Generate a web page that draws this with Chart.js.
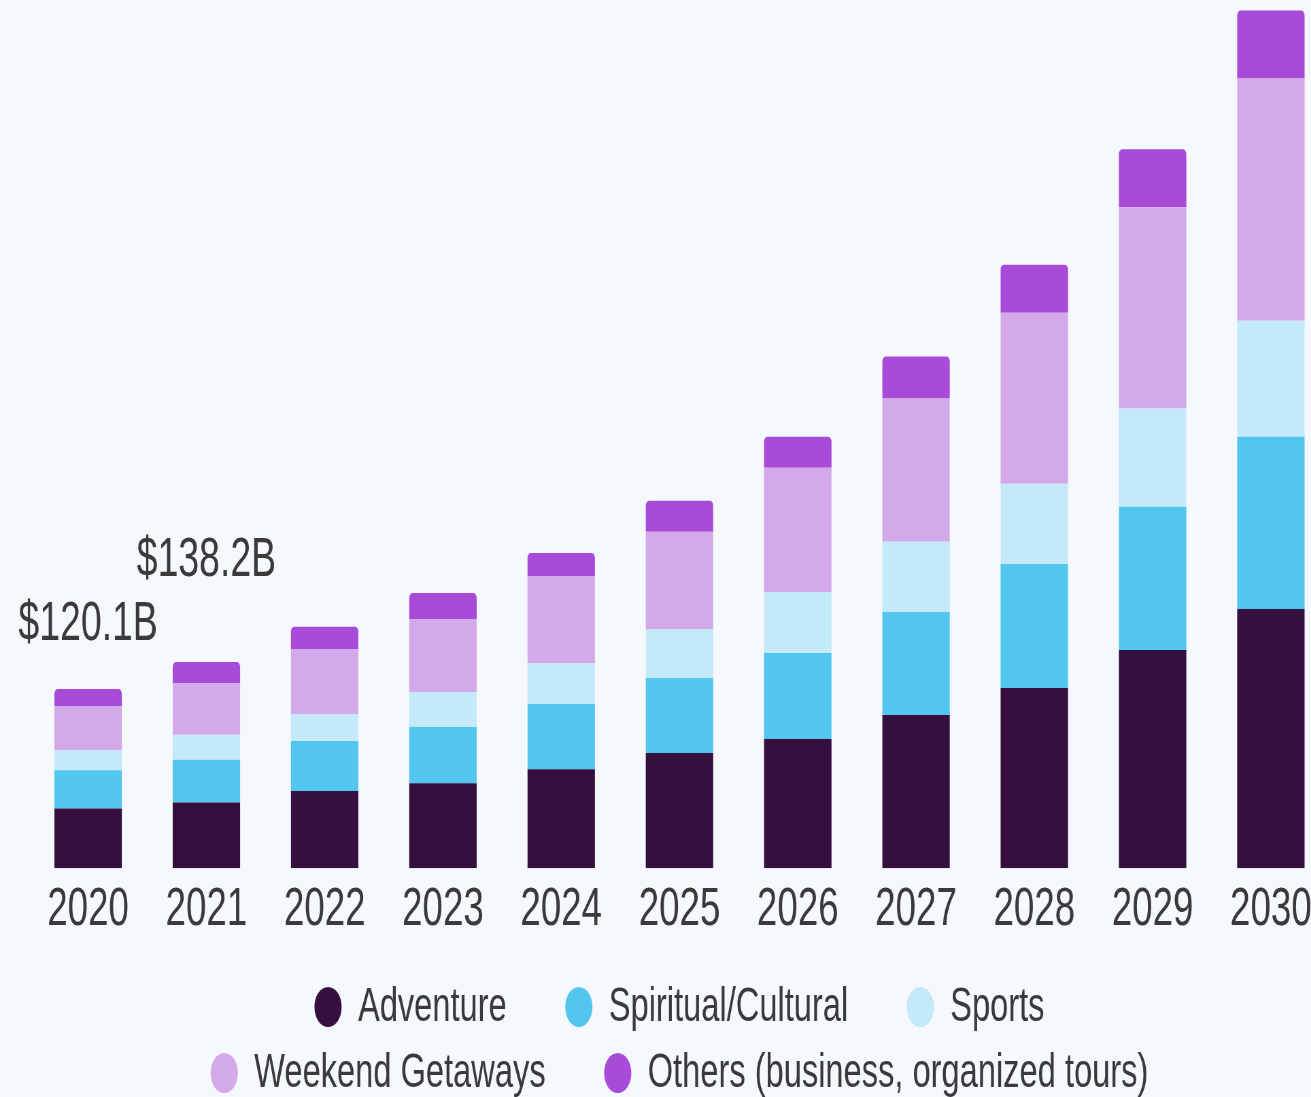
<!DOCTYPE html>
<html>
<head>
<meta charset="utf-8">
<title>Tourism market by type, 2020-2030</title>
<script src="https://cdn.jsdelivr.net/npm/chart.js@4.4.1/dist/chart.umd.min.js"></script>
<style>
  html, body { margin: 0; padding: 0; background: #f5f8fc; overflow: hidden; }
  /* the source picture is squeezed sideways, so the whole chart is drawn wide and narrowed */
  #wrap { position: absolute; left: 0; top: 0; width: 2000px; height: 1097px;
          transform: scaleX(0.68); transform-origin: 0 0; }
</style>
</head>
<body>
<div id="wrap"><canvas id="marketChart" width="2000" height="1097"></canvas></div>
<script>
// Market size in USD billions
const years = ["2020", "2021", "2022", "2023", "2024", "2025", "2026", "2027", "2028", "2029", "2030"];
const adventure = [40.0, 44.0, 51.7, 57.0, 66.4, 77.2, 86.6, 102.7, 120.8, 146.3, 173.8];
const spiritual = [25.6, 28.7, 33.6, 37.6, 43.6, 50.3, 57.7, 69.1, 83.2, 96.0, 115.4];
const sports = [13.5, 16.7, 18.1, 23.5, 27.5, 32.9, 40.9, 47.0, 53.7, 65.8, 77.8];
const weekend = [29.6, 34.7, 43.6, 49.0, 58.4, 65.1, 83.2, 96.0, 114.7, 134.9, 162.4];
const others = [11.4, 14.1, 14.8, 17.4, 15.4, 20.8, 20.8, 28.2, 32.2, 38.9, 45.6];
const seriesNames = ["Adventure", "Spiritual/Cultural", "Sports", "Weekend Getaways", "Others (business, organized tours)"];
const labelledYears = ["2020", "2021"]; // bars that carry a total label

const FONT = '"Liberation Sans", Arial, sans-serif';
const TEXT = "#3a3a3a";
const colors = ["#35103f", "#53c6f0", "#c4e9f8", "#d4a9ea", "#a84bd8"];

const seriesValues = [adventure, spiritual, sports, weekend, others];

// Total labels above the first bars
const totalLabels = {
  id: "totalLabels",
  afterDatasetsDraw(chart) {
    const { ctx } = chart;
    const xs = chart.scales.x, ys = chart.scales.y;
    const lift = [64, 101]; // how far above the bar top each label sits
    ctx.save();
    ctx.font = "55px " + FONT;
    ctx.fillStyle = TEXT;
    ctx.textAlign = "center";
    ctx.textBaseline = "middle";
    labelledYears.forEach((yr, k) => {
      const i = years.indexOf(yr);
      const total = seriesValues.reduce((s, arr) => s + arr[i], 0);
      ctx.fillText("$" + total.toFixed(1) + "B", xs.getPixelForValue(i), ys.getPixelForValue(total) - lift[k]);
    });
    ctx.restore();
  }
};

// Legend in two fixed rows with round markers
const rowLegend = {
  id: "rowLegend",
  afterDraw(chart) {
    const { ctx, chartArea } = chart;
    const rows = [[0, 1, 2], [3, 4]];
    const radius = 20, markGap = 24, itemGap = 86;
    const rowY = [1007, 1073];
    const cx = (chartArea.left + chartArea.right) / 2;
    ctx.save();
    ctx.font = "48px " + FONT;
    ctx.textBaseline = "middle";
    ctx.textAlign = "left";
    rows.forEach((row, r) => {
      const sets = row.map((i) => chart.data.datasets[i]);
      const widths = sets.map((ds) => 2 * radius + markGap + ctx.measureText(ds.label).width);
      const total = widths.reduce((a, b) => a + b, 0) + itemGap * (sets.length - 1);
      let x = cx - total / 2;
      const y = rowY[r];
      sets.forEach((ds, k) => {
        ctx.fillStyle = ds.backgroundColor;
        ctx.beginPath();
        ctx.arc(x + radius, y, radius, 0, Math.PI * 2);
        ctx.fill();
        ctx.fillStyle = TEXT;
        ctx.fillText(ds.label, x + 2 * radius + markGap, y + 1);
        x += widths[k] + itemGap;
      });
    });
    ctx.restore();
  }
};

const ctx = document.getElementById("marketChart").getContext("2d");

const marketChart = new Chart(ctx, {
  type: "bar",
  data: {
    labels: years,
    datasets: seriesValues.map((vals, i) => ({
      label: seriesNames[i],
      data: vals,
      backgroundColor: colors[i],
      borderWidth: 0,
      borderRadius: i === seriesValues.length - 1 ? { topLeft: 5, topRight: 5 } : 0,
      borderSkipped: false,
      barPercentage: 0.57,
      categoryPercentage: 1.0,
    })),
  },
  options: {
    responsive: false,
    animation: false,
    devicePixelRatio: 1,
    layout: {
      padding: { left: 42.6, right: 44.1, top: 0, bottom: 144 },
    },
    plugins: {
      legend: { display: false },
      tooltip: { enabled: false },
    },
    scales: {
      x: {
        stacked: true,
        grid: { display: false, drawTicks: false },
        border: { display: false },
        ticks: {
          color: TEXT,
          padding: 10,
          font: { family: FONT, size: 54 },
          maxRotation: 0,
        },
      },
      y: {
        stacked: true,
        display: false,
        min: 0,
        max: 582,
      },
    },
  },
  plugins: [totalLabels, rowLegend],
});
</script>
</body>
</html>
